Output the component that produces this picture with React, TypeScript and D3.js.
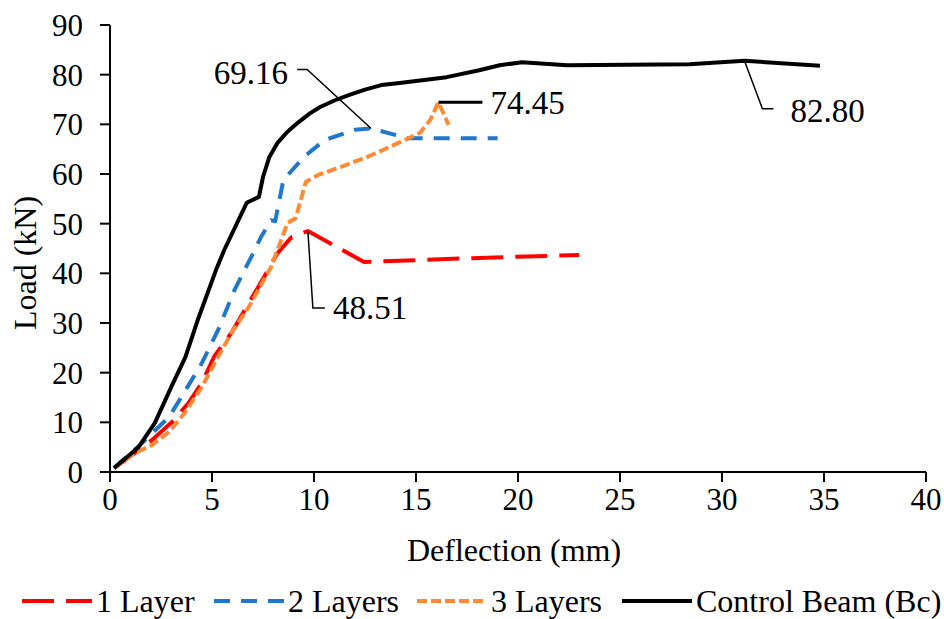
import React, { useRef, useEffect } from 'react';
import * as d3 from 'd3';

// Control beam (Bc)
const controlX = [0.2, 1.4, 2.2, 3.0, 3.7, 4.3, 5.2, 5.6, 6.7, 7.3, 7.5, 7.8, 8.2, 8.7, 9.2, 9.8, 10.3, 11.0, 11.7, 12.5, 13.3, 14.2, 16.5, 18.1, 19.1, 20.2, 22.4, 28.4, 31.1, 34.8];
const controlY = [0.8, 5, 9.9, 17.1, 23.2, 30.6, 40.7, 44.7, 54.2, 55.4, 59.4, 63.3, 66.2, 68.5, 70.3, 72.2, 73.5, 74.8, 75.9, 77.0, 77.9, 78.3, 79.5, 80.9, 81.9, 82.5, 81.9, 82.1, 82.8, 81.8];

// 1 layer
const layer1X = [0.2, 2.05, 3.0, 3.85, 4.5, 5.1, 5.95, 6.6, 7.56, 8.2, 8.9, 9.7, 12.45, 18.1, 23.0];
const layer1Y = [0.8, 6.4, 9.9, 13.9, 17.9, 23.2, 28, 32.6, 39.3, 44, 47.3, 48.51, 42.3, 43.1, 43.7];

// 2 layers
const layer2X = [0.2, 1.56, 2.9, 3.5, 4.5, 5.3, 6.1, 6.6, 7.1, 7.4, 7.9, 8.1, 8.5, 9.5, 10.5, 12.0, 12.8, 14.6, 19.0];
const layer2Y = [0.8, 5.8, 11.1, 15.1, 21.9, 28.6, 36.6, 40.7, 44.7, 47.3, 50.7, 50.5, 58.8, 63.4, 66.8, 68.9, 69.16, 67.2, 67.2];

// 3 layers
const layer3X = [0.2, 1.2, 2.05, 2.9, 3.66, 4.5, 5.3, 5.95, 6.8, 7.9, 8.7, 9.1, 9.6, 10.2, 11.3, 12.6, 13.9, 15.2, 15.7, 16.1, 16.6];
const layer3Y = [0.8, 3.8, 5.4, 8.1, 11.9, 17.1, 23.2, 28, 33.2, 41.3, 50.1, 51.1, 58.4, 59.8, 61.4, 63.4, 65.8, 68.3, 70.9, 74.45, 69.9];

const xTicks = [0, 5, 10, 15, 20, 25, 30, 35, 40];
const yTicks = [0, 10, 20, 30, 40, 50, 60, 70, 80, 90];

// peak values that get a leader-line label
const peakX = [12.8, 16.1, 31.1, 9.7];
const peakY = [69.16, 74.45, 82.8, 48.51];
const peakText = ['69.16', '74.45', '82.80', '48.51'];

const W = 944;
const H = 619;
const FONT = "'Liberation Serif', 'Times New Roman', Tinos, 'DejaVu Serif', serif";

export default function App() {
  const svgRef = useRef<SVGSVGElement | null>(null);

  useEffect(() => {
    if (!svgRef.current) return;
    const svg = d3.select(svgRef.current);
    svg.selectAll('*').remove();

    const x = d3.scaleLinear().domain([0, 40]).range([110, 926]);
    const y = d3.scaleLinear().domain([0, 90]).range([472, 25]);

    const series = [
      { name: '1 Layer', xs: layer1X, ys: layer1Y, color: '#ff0000', dash: '32,12', w: 4 },
      { name: '2 Layers', xs: layer2X, ys: layer2Y, color: '#1f78cc', dash: '16,11', w: 4 },
      { name: '3 Layers', xs: layer3X, ys: layer3Y, color: '#ff8a33', dash: '10,4', w: 4 },
      { name: 'Control Beam (Bc)', xs: controlX, ys: controlY, color: '#000000', dash: null, w: 4 },
    ];

    const line = d3.line<[number, number]>()
      .x(d => x(d[0]))
      .y(d => y(d[1]));

    // Series (black last so it sits on top)
    series.forEach(s => {
      const pts: [number, number][] = s.xs.map((v, i) => [v, s.ys[i]]);
      svg.append('path')
        .attr('d', line(pts))
        .attr('fill', 'none')
        .attr('stroke', s.color)
        .attr('stroke-width', s.w)
        .attr('stroke-dasharray', s.dash)
        .attr('stroke-linejoin', 'round');
    });

    // Axes
    const axisG = svg.append('g').style('font-family', FONT).style('font-size', '31px');
    axisG.append('line')
      .attr('x1', x(0)).attr('x2', x(40)).attr('y1', y(0)).attr('y2', y(0))
      .attr('stroke', '#000').attr('stroke-width', 2);
    axisG.append('line')
      .attr('x1', x(0)).attr('x2', x(0)).attr('y1', y(0)).attr('y2', y(90))
      .attr('stroke', '#000').attr('stroke-width', 2);

    xTicks.forEach(t => {
      axisG.append('line')
        .attr('x1', x(t)).attr('x2', x(t)).attr('y1', y(0)).attr('y2', y(0) + 10)
        .attr('stroke', '#000').attr('stroke-width', 2);
      axisG.append('text')
        .attr('x', x(t)).attr('y', y(0) + 38)
        .attr('text-anchor', 'middle')
        .text(t);
    });
    yTicks.forEach(t => {
      axisG.append('line')
        .attr('x1', x(0) - 10).attr('x2', x(0)).attr('y1', y(t)).attr('y2', y(t))
        .attr('stroke', '#000').attr('stroke-width', 2);
      axisG.append('text')
        .attr('x', x(0) - 27).attr('y', y(t))
        .attr('dy', '0.35em')
        .attr('text-anchor', 'end')
        .text(t);
    });

    axisG.append('text')
      .attr('x', 514).attr('y', 561)
      .attr('text-anchor', 'middle')
      .style('font-size', '32px')
      .text('Deflection (mm)');
    axisG.append('text')
      .attr('transform', 'translate(36, 263) rotate(-90)')
      .attr('text-anchor', 'middle')
      .style('font-size', '32px')
      .text('Load (kN)');

    // Peak leader lines and labels (pixel offsets from the peak point)
    const leaders: [number, number][][] = [
      [[0, 0], [-64, -59], [-74, -59]],
      [[0, 0], [44, 0]],
      [[0, 0], [18, 48], [29, 48]],
      [[0, 0], [5, 77], [17, 77]],
    ];
    const textOff: [number, number, string][] = [
      [-83, -56, 'end'],
      [52, 0, 'start'],
      [46, 50, 'start'],
      [25, 76, 'start'],
    ];
    peakX.forEach((px, i) => {
      const ax = x(px);
      const ay = y(peakY[i]);
      svg.append('path')
        .attr('d', d3.line()(leaders[i].map(([dx, dy]) => [ax + dx, ay + dy])))
        .attr('fill', 'none')
        .attr('stroke', '#000')
        .attr('stroke-width', i === 1 ? 3 : 1.5);
      svg.append('text')
        .attr('x', ax + textOff[i][0])
        .attr('y', ay + textOff[i][1])
        .attr('dy', '0.35em')
        .attr('text-anchor', textOff[i][2])
        .style('font-family', FONT)
        .style('font-size', '33px')
        .text(peakText[i]);
    });

    // Legend
    const legendX = [22, 214, 417, 622];
    const legend = svg.append('g').style('font-family', FONT).style('font-size', '32px');
    series.forEach((s, i) => {
      legend.append('line')
        .attr('x1', legendX[i]).attr('x2', legendX[i] + 70)
        .attr('y1', 601).attr('y2', 601)
        .attr('stroke', s.color)
        .attr('stroke-width', s.w)
        .attr('stroke-dasharray', s.dash);
      legend.append('text')
        .attr('x', legendX[i] + 74)
        .attr('y', 601)
        .attr('dy', '0.35em')
        .text(s.name);
    });
  }, []);

  return (
    <svg
      ref={svgRef}
      width={W}
      height={H}
      style={{ position: 'absolute', left: 0, top: 0, background: '#fff' }}
    />
  );
}
